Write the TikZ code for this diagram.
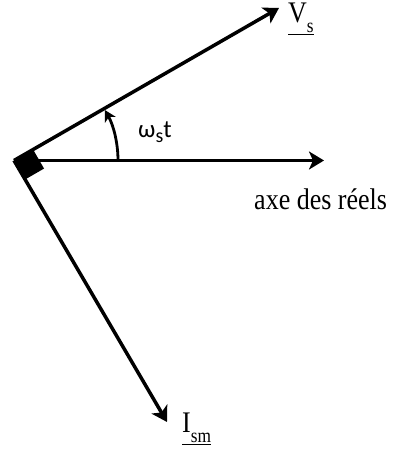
\documentclass[tikz,border=0pt]{standalone}
\usepackage{fontspec}
\setmainfont{Liberation Serif}[FakeStretch=0.87]
\newfontfamily\omegafont{Carlito}
\usetikzlibrary{arrows.meta}

\newcommand{\vecnom}[2]{\underline{#1\raisebox{-10bp}{\fontsize{20}{20}\selectfont #2}}}

\tikzset{
  vecteur/.style={line width=3.5bp, -{Stealth[length=15bp,width=18bp,inset=4bp]}},
  rotation/.style={line width=2.8bp, -{Stealth[length=11bp,width=12bp,inset=3bp]}},
  etiquette/.style={inner sep=0pt, anchor=base west},
}

\begin{document}
\begin{tikzpicture}[x=1bp,y=1bp]
\useasboundingbox (0,0) rectangle (396,450);
\coordinate (O) at (14,289.5);
\coordinate (pointeV) at (279,442);
\coordinate (pointeAxe) at (324,289.5);
\coordinate (pointeI) at (167,28);
\coordinate (debutArc) at (118,289.5);

% angle droit
\begin{scope}[shift={(O)},rotate=30]
\fill (0,0) rectangle (22,-22);
\end{scope}

\draw[vecteur] (O) -- (pointeV);
\draw[vecteur] (O) -- (pointeAxe);
\draw[vecteur] (O) -- (pointeI);
\draw[rotation] (debutArc) arc[start angle=0, end angle=29, radius=104];

\node[etiquette, font=\fontsize{30}{30}\selectfont] (nomV) at (288,427) {\vecnom{V}{s}};
\node[etiquette, font=\fontsize{30}{30}\selectfont] (nomI) at (182,17) {\vecnom{I}{sm}};
\node[etiquette, font=\fontsize{30}{30}\selectfont] (nomAxe) at (254,240) {axe des réels};
\node[etiquette, font=\omegafont\fontsize{25}{25}\selectfont] (nomAngle) at (138,312)
  {ω\raisebox{-5bp}{\fontsize{20}{20}\selectfont s}t};
\end{tikzpicture}
\end{document}
